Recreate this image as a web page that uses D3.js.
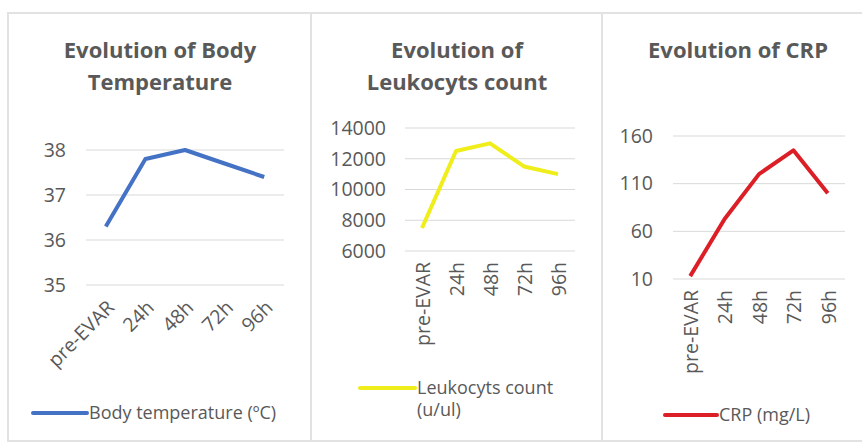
<!DOCTYPE html>
<meta charset="UTF-8">
<html lang="en">
<head><link rel="icon" href="data:,"></head>
<style>
body {
  margin: 0;
  background: #fff;
  font-family: "Open Sans", Lato, sans-serif;
}
.grid line { stroke: #d9d9d9; stroke-width: 1; }
.tick-label { fill: #595959; font-size: 19.5px; }
.legend-label { fill: #595959; font-size: 18px; }
.title { fill: #595959; font-size: 22px; font-weight: bold; }
</style>
<script src="https://cdn.jsdelivr.net/npm/d3@7/dist/d3.min.js"></script>
<body>
<svg id="view"></svg>
</body>
<script>
const viewDims = { width: 862, height: 444 };

// data
const timepoints = ["pre-EVAR", "24h", "48h", "72h", "96h"];
const bodyTemp = [36.3, 37.8, 38.0, 37.7, 37.4];
const leukocytes = [7500, 12500, 13000, 11500, 11000];
const crp = [13, 73, 120, 145, 100];

const tempTicks = [35, 36, 37, 38];
const leukTicks = [6000, 8000, 10000, 12000, 14000];
const crpTicks = [10, 60, 110, 160];

const panels = [
  {
    box: [8, 311], title: ["Evolution of Body", "Temperature"], titleX: 160,
    values: bodyTemp, ticks: tempTicks, domain: [35, 38],
    xr: [86, 284], yr: [285, 150], labelX: 66,
    color: "#4472c4", rotate: -45, labelY: 304,
    legend: { x1: 33, x2: 87, y: 413, text: ["Body temperature (ºC)"] }
  },
  {
    box: [311, 602], title: ["Evolution of", "Leukocyts count"], titleX: 457,
    values: leukocytes, ticks: leukTicks, domain: [6000, 14000],
    xr: [405, 575], yr: [251, 128], labelX: 386,
    color: "#f0ee1a", rotate: -90, labelY: 262,
    legend: { x1: 360, x2: 415, y: 388, text: ["Leukocyts count", "(u/ul)"] }
  },
  {
    box: [602, 875], title: ["Evolution of CRP"], titleX: 738,
    values: crp, ticks: crpTicks, domain: [10, 160],
    xr: [673, 845], yr: [279, 136], labelX: 653,
    color: "#dc1f26", rotate: -90, labelY: 290,
    legend: { x1: 665, x2: 717, y: 415, text: ["CRP (mg/L)"] }
  }
];

const svg = d3.select("svg#view")
  .attr("width", viewDims.width)
  .attr("height", viewDims.height);

panels.forEach(drawPanel);

function drawPanel(p){
  const g = svg.append("g");

  g.append("rect")
    .attr("x", p.box[0]).attr("y", 13)
    .attr("width", p.box[1] - p.box[0]).attr("height", 428)
    .attr("fill", "#fff")
    .attr("stroke", "#e2e2e2").attr("stroke-width", 2);

  p.title.forEach((t, i) => {
    g.append("text").attr("class", "title")
      .attr("x", p.titleX).attr("y", 58 + i*32)
      .attr("text-anchor", "middle")
      .text(t);
  });

  const x = d3.scalePoint().domain(timepoints).range(p.xr).padding(0.5);
  const y = d3.scaleLinear().domain(p.domain).range(p.yr);

  g.append("g").attr("class", "grid")
    .selectAll("line").data(p.ticks).enter().append("line")
    .attr("x1", p.xr[0]).attr("x2", p.xr[1])
    .attr("y1", d => y(d)).attr("y2", d => y(d));

  g.append("g").selectAll("text").data(p.ticks).enter().append("text")
    .attr("class", "tick-label")
    .attr("x", p.labelX).attr("y", d => y(d))
    .attr("dy", "0.35em")
    .attr("text-anchor", "end")
    .text(d => d);

  g.append("g").selectAll("text").data(timepoints).enter().append("text")
    .attr("class", "tick-label")
    .attr("text-anchor", "end")
    .attr("dy", "0.35em")
    .attr("transform", d => p.rotate === -45
      ? `translate(${x(d) + 5},${p.labelY}) rotate(-45)`
      : `translate(${x(d) + 1},${p.labelY}) rotate(-90)`)
    .text(d => d);

  const line = d3.line()
    .x((d, i) => x(timepoints[i]))
    .y(d => y(d));

  g.append("path")
    .datum(p.values)
    .attr("d", line)
    .attr("fill", "none")
    .attr("stroke", p.color)
    .attr("stroke-width", 4)
    .attr("stroke-linejoin", "round");

  const lg = p.legend;
  g.append("line")
    .attr("x1", lg.x1).attr("x2", lg.x2)
    .attr("y1", lg.y).attr("y2", lg.y)
    .attr("stroke", p.color).attr("stroke-width", 4)
    .attr("stroke-linecap", "round");
  lg.text.forEach((t, i) => {
    g.append("text").attr("class", "legend-label")
      .attr("x", lg.x2 + 2).attr("y", lg.y + i*22)
      .attr("dy", "0.35em")
      .text(t);
  });
}
</script>
</html>
